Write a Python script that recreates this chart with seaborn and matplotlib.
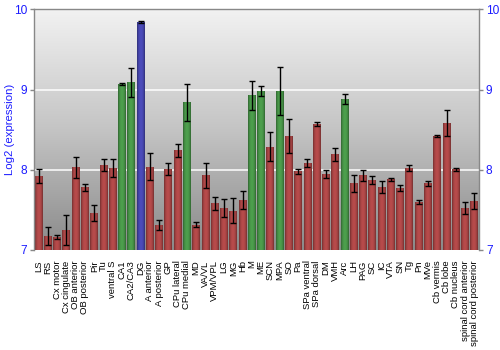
import numpy as np
import pandas as pd
import matplotlib
matplotlib.use("Agg")
import matplotlib.pyplot as plt
import seaborn as sns
from matplotlib.colors import LinearSegmentedColormap, to_rgb

regions = [
    "LS", "RS", "Cx motor", "Cx cingulate", "OB anterior", "OB posterior",
    "Pir", "Tu", "ventral S", "CA1", "CA2/CA3", "DG", "A anterior",
    "A posterior", "GP", "CPu lateral", "CPu medial", "MD", "VA/VL",
    "VPM/VPL", "LG", "MG", "Hb", "M", "ME", "SCN", "MPA", "SO", "Pa",
    "SPa ventral", "SPa dorsal", "DM", "VMH", "Arc", "LH", "PAG", "SC", "IC",
    "VTA", "SN", "Tg", "Pn", "MVe", "Cb vermis", "Cb lobe", "Cb nucleus",
    "spinal cord anterior", "spinal cord posterior",
]
expression = [
    7.925, 7.17, 7.16, 7.245, 8.03, 7.78,
    7.46, 8.06, 8.025, 9.07, 9.09, 9.84, 8.04,
    7.31, 8.005, 8.245, 8.84, 7.315, 7.93,
    7.58, 7.52, 7.49, 7.62, 8.93, 8.98, 8.29, 8.98, 8.42, 7.98,
    8.09, 8.565, 7.946, 8.195, 8.885, 7.83, 7.93, 7.87, 7.785,
    7.88, 7.77, 8.02, 7.60, 7.83, 8.42, 8.58, 8.005,
    7.52, 7.61,
]
errors = [
    0.09, 0.11, 0.02, 0.19, 0.13, 0.045,
    0.10, 0.07, 0.11, 0.01, 0.18, 0.01, 0.17,
    0.065, 0.075, 0.08, 0.23, 0.03, 0.155,
    0.08, 0.115, 0.16, 0.11, 0.18, 0.06, 0.175, 0.30, 0.215, 0.03,
    0.05, 0.025, 0.055, 0.08, 0.06, 0.105, 0.07, 0.05, 0.08,
    0.015, 0.04, 0.04, 0.025, 0.03, 0.01, 0.165, 0.015,
    0.075, 0.10,
]
green_regions = ["CA1", "CA2/CA3", "CPu medial", "M", "ME", "MPA", "Arc"]
blue_regions = ["DG"]
groups = ["green" if r in green_regions else "blue" if r in blue_regions else "red"
          for r in regions]

palette = {"red": "#b83434", "green": "#3a9e3a", "blue": "#3434bc"}
label_blue = "#1c1cff"
frame_gray = "#888888"

sns.set_theme(style="white")
plt.rcParams["font.family"] = ["Liberation Sans", "DejaVu Sans"]

fig = plt.figure(figsize=(5, 3.5), dpi=100)
ax = fig.add_axes([0.068, 0.286, 0.89, 0.687])

df = pd.DataFrame({"region": regions, "expression": expression,
                   "err": errors, "group": groups})

sns.barplot(data=df, x="region", y="expression", hue="group", palette=palette,
            dodge=False, width=0.86, errorbar=None, legend=False, ax=ax,
            zorder=1)

ymin, ymax = 7, 10
ax.set_ylim(ymin, ymax)
ax.set_xlim(-0.5, len(regions) - 0.5)

# vertical gray gradient behind the plot
bg = LinearSegmentedColormap.from_list("bg", ["#8a8a8a", "#c4c4c4", "#f2f2f2"])
ax.imshow(np.linspace(0, 1, 256).reshape(-1, 1), cmap=bg, origin="lower",
          extent=[-0.5, len(regions) - 0.5, ymin, ymax], aspect="auto",
          zorder=0)

for yv in (8, 9):
    ax.axhline(yv, color="white", lw=1.2, alpha=0.9, zorder=0.5)

# cylinder-like horizontal shading on each bar
t = np.linspace(0, 1, 64)
shade = 0.62 + 0.48 * np.sin(np.pi * t) ** 0.6
for patch in list(ax.patches):
    h = patch.get_height()
    if not np.isfinite(h) or h <= 0:
        continue
    x0 = patch.get_x()
    w = patch.get_width()
    base = np.array(to_rgb(patch.get_facecolor()))
    img = np.clip(base[None, None, :] * shade[None, :, None], 0, 1)
    im = ax.imshow(img, extent=[x0, x0 + w, ymin, patch.get_y() + h],
                   aspect="auto", zorder=1.5, interpolation="bilinear")
    im.set_clip_path(patch)
    patch.set_edgecolor("none")

ax.set_xlim(-0.5, len(regions) - 0.5)
ax.set_ylim(ymin, ymax)

ax.errorbar(x=np.arange(len(regions)), y=df["expression"], yerr=df["err"],
            fmt="none", ecolor="black", elinewidth=1, capsize=2.3,
            capthick=1, zorder=3)

ax.set_yticks([7, 8, 9, 10])
ax.tick_params(axis="y", which="both", left=True, right=True,
               labelleft=True, labelright=True, labelcolor=label_blue,
               labelsize=8.6, color=frame_gray, length=3, width=1, pad=2)
ax.tick_params(axis="x", bottom=False, labelsize=6.8, labelcolor="black",
               pad=1.5)
ax.set_xticks(np.arange(len(regions)))
ax.set_xticklabels(regions, rotation=90, ha="center", va="top")

ax.set_xlabel("")
ax.set_ylabel("Log2 (expression)", color=label_blue, fontsize=8.2)
ax.yaxis.set_label_coords(-0.042, 0.5)

for side in ("top", "left", "right"):
    ax.spines[side].set_visible(True)
    ax.spines[side].set_color(frame_gray)
    ax.spines[side].set_linewidth(1)
ax.spines["bottom"].set_visible(False)

fig.savefig("out.png", dpi=100)
